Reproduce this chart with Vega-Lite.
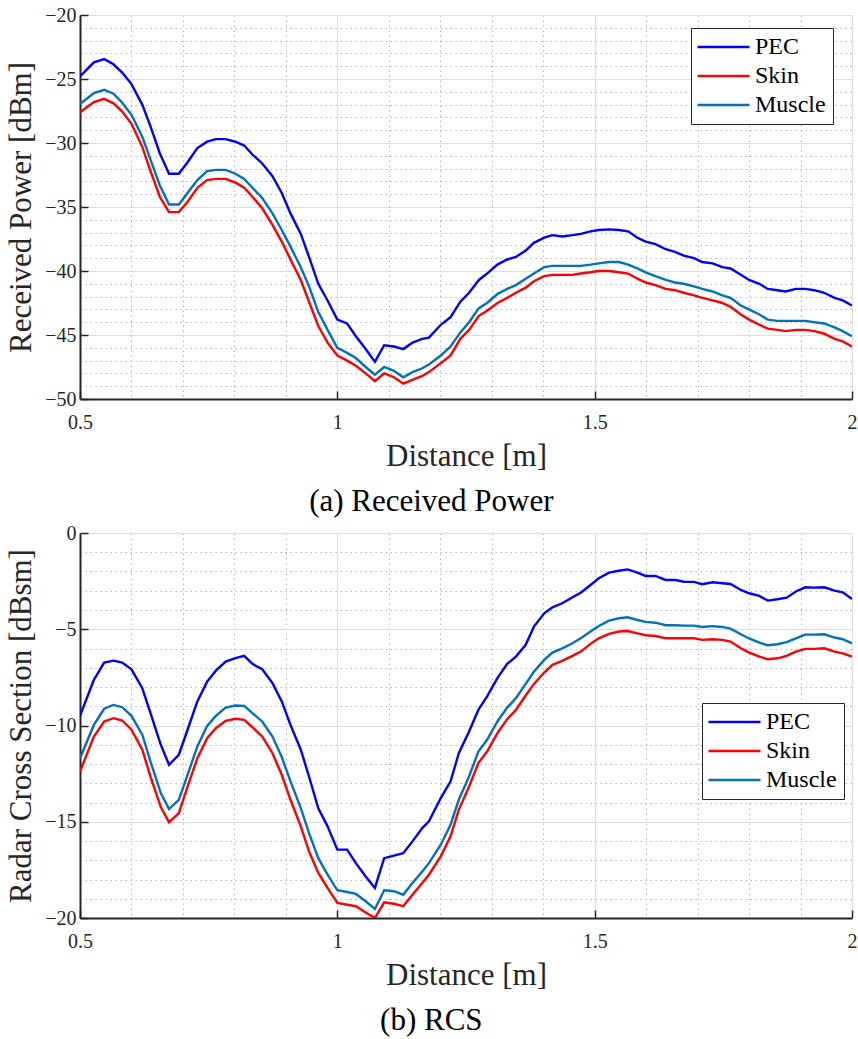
{
  "$schema": "https://vega.github.io/schema/vega-lite/v6.json",
  "background": "white",
  "padding": {"left": 5, "top": 5, "right": 0, "bottom": 5},
  "spacing": 6,
  "datasets": {
    "rp": [
      {"d":0.5,"PEC":-24.8,"Skin":-27.6,"Muscle":-26.95},
      {"d":0.527,"PEC":-23.7,"Skin":-26.8,"Muscle":-26.1},
      {"d":0.547,"PEC":-23.45,"Skin":-26.55,"Muscle":-25.85},
      {"d":0.565,"PEC":-23.85,"Skin":-26.9,"Muscle":-26.15},
      {"d":0.582,"PEC":-24.5,"Skin":-27.55,"Muscle":-26.85},
      {"d":0.6,"PEC":-25.4,"Skin":-28.5,"Muscle":-27.8},
      {"d":0.621,"PEC":-27.0,"Skin":-30.3,"Muscle":-29.5},
      {"d":0.637,"PEC":-28.7,"Skin":-32.2,"Muscle":-31.3},
      {"d":0.655,"PEC":-30.8,"Skin":-34.2,"Muscle":-33.3},
      {"d":0.673,"PEC":-32.4,"Skin":-35.4,"Muscle":-34.8},
      {"d":0.692,"PEC":-32.4,"Skin":-35.4,"Muscle":-34.8},
      {"d":0.709,"PEC":-31.5,"Skin":-34.6,"Muscle":-33.9},
      {"d":0.728,"PEC":-30.4,"Skin":-33.5,"Muscle":-32.9},
      {"d":0.747,"PEC":-29.9,"Skin":-32.9,"Muscle":-32.2},
      {"d":0.764,"PEC":-29.7,"Skin":-32.8,"Muscle":-32.1},
      {"d":0.783,"PEC":-29.7,"Skin":-32.8,"Muscle":-32.1},
      {"d":0.802,"PEC":-29.9,"Skin":-33.1,"Muscle":-32.4},
      {"d":0.819,"PEC":-30.2,"Skin":-33.5,"Muscle":-32.8},
      {"d":0.835,"PEC":-30.9,"Skin":-34.2,"Muscle":-33.5},
      {"d":0.854,"PEC":-31.6,"Skin":-35.1,"Muscle":-34.3},
      {"d":0.874,"PEC":-32.6,"Skin":-36.4,"Muscle":-35.5},
      {"d":0.892,"PEC":-33.9,"Skin":-37.7,"Muscle":-36.8},
      {"d":0.909,"PEC":-35.5,"Skin":-39.1,"Muscle":-38.1},
      {"d":0.929,"PEC":-37.1,"Skin":-40.7,"Muscle":-39.7},
      {"d":0.945,"PEC":-38.9,"Skin":-42.4,"Muscle":-41.2},
      {"d":0.963,"PEC":-41.0,"Skin":-44.3,"Muscle":-43.2},
      {"d":0.981,"PEC":-42.3,"Skin":-45.6,"Muscle":-44.6},
      {"d":1.0,"PEC":-43.8,"Skin":-46.6,"Muscle":-46.0},
      {"d":1.019,"PEC":-44.1,"Skin":-47.0,"Muscle":-46.4},
      {"d":1.036,"PEC":-45.1,"Skin":-47.4,"Muscle":-46.8},
      {"d":1.055,"PEC":-46.1,"Skin":-48.0,"Muscle":-47.5},
      {"d":1.073,"PEC":-47.1,"Skin":-48.6,"Muscle":-48.1},
      {"d":1.091,"PEC":-45.8,"Skin":-48.0,"Muscle":-47.5},
      {"d":1.11,"PEC":-45.9,"Skin":-48.3,"Muscle":-47.8},
      {"d":1.128,"PEC":-46.1,"Skin":-48.8,"Muscle":-48.3},
      {"d":1.146,"PEC":-45.6,"Skin":-48.5,"Muscle":-47.9},
      {"d":1.165,"PEC":-45.3,"Skin":-48.2,"Muscle":-47.6},
      {"d":1.178,"PEC":-45.2,"Skin":-47.9,"Muscle":-47.3},
      {"d":1.201,"PEC":-44.2,"Skin":-47.2,"Muscle":-46.6},
      {"d":1.22,"PEC":-43.6,"Skin":-46.6,"Muscle":-45.9},
      {"d":1.239,"PEC":-42.4,"Skin":-45.3,"Muscle":-44.8},
      {"d":1.256,"PEC":-41.7,"Skin":-44.6,"Muscle":-44.0},
      {"d":1.275,"PEC":-40.7,"Skin":-43.5,"Muscle":-42.9},
      {"d":1.291,"PEC":-40.2,"Skin":-43.1,"Muscle":-42.5},
      {"d":1.311,"PEC":-39.5,"Skin":-42.5,"Muscle":-41.8},
      {"d":1.33,"PEC":-39.1,"Skin":-42.1,"Muscle":-41.4},
      {"d":1.347,"PEC":-38.9,"Skin":-41.7,"Muscle":-41.1},
      {"d":1.366,"PEC":-38.4,"Skin":-41.3,"Muscle":-40.6},
      {"d":1.382,"PEC":-37.8,"Skin":-40.8,"Muscle":-40.2},
      {"d":1.402,"PEC":-37.4,"Skin":-40.4,"Muscle":-39.7},
      {"d":1.418,"PEC":-37.2,"Skin":-40.3,"Muscle":-39.6},
      {"d":1.437,"PEC":-37.3,"Skin":-40.3,"Muscle":-39.6},
      {"d":1.457,"PEC":-37.2,"Skin":-40.3,"Muscle":-39.6},
      {"d":1.473,"PEC":-37.1,"Skin":-40.2,"Muscle":-39.6},
      {"d":1.492,"PEC":-36.9,"Skin":-40.1,"Muscle":-39.5},
      {"d":1.508,"PEC":-36.8,"Skin":-40.0,"Muscle":-39.4},
      {"d":1.528,"PEC":-36.75,"Skin":-40.0,"Muscle":-39.3},
      {"d":1.547,"PEC":-36.8,"Skin":-40.1,"Muscle":-39.3},
      {"d":1.565,"PEC":-36.9,"Skin":-40.2,"Muscle":-39.5},
      {"d":1.583,"PEC":-37.4,"Skin":-40.6,"Muscle":-39.8},
      {"d":1.599,"PEC":-37.7,"Skin":-40.9,"Muscle":-40.1},
      {"d":1.618,"PEC":-37.9,"Skin":-41.1,"Muscle":-40.4},
      {"d":1.638,"PEC":-38.3,"Skin":-41.4,"Muscle":-40.7},
      {"d":1.656,"PEC":-38.5,"Skin":-41.5,"Muscle":-40.9},
      {"d":1.673,"PEC":-38.8,"Skin":-41.7,"Muscle":-41.0},
      {"d":1.693,"PEC":-39.0,"Skin":-41.9,"Muscle":-41.2},
      {"d":1.709,"PEC":-39.3,"Skin":-42.1,"Muscle":-41.4},
      {"d":1.729,"PEC":-39.4,"Skin":-42.3,"Muscle":-41.6},
      {"d":1.748,"PEC":-39.7,"Skin":-42.5,"Muscle":-41.9},
      {"d":1.764,"PEC":-39.8,"Skin":-42.8,"Muscle":-42.1},
      {"d":1.784,"PEC":-40.3,"Skin":-43.4,"Muscle":-42.7},
      {"d":1.8,"PEC":-40.7,"Skin":-43.8,"Muscle":-43.0},
      {"d":1.82,"PEC":-41.0,"Skin":-44.2,"Muscle":-43.4},
      {"d":1.836,"PEC":-41.4,"Skin":-44.5,"Muscle":-43.8},
      {"d":1.855,"PEC":-41.5,"Skin":-44.6,"Muscle":-43.9},
      {"d":1.871,"PEC":-41.6,"Skin":-44.7,"Muscle":-43.9},
      {"d":1.891,"PEC":-41.4,"Skin":-44.6,"Muscle":-43.9},
      {"d":1.909,"PEC":-41.4,"Skin":-44.6,"Muscle":-43.9},
      {"d":1.927,"PEC":-41.5,"Skin":-44.7,"Muscle":-44.0},
      {"d":1.946,"PEC":-41.7,"Skin":-44.9,"Muscle":-44.1},
      {"d":1.966,"PEC":-42.1,"Skin":-45.3,"Muscle":-44.4},
      {"d":1.982,"PEC":-42.3,"Skin":-45.5,"Muscle":-44.7},
      {"d":2.0,"PEC":-42.7,"Skin":-45.9,"Muscle":-45.1}
    ],
    "rcs": [
      {"d":0.5,"PEC":-9.5,"Skin":-12.39,"Muscle":-11.7},
      {"d":0.527,"PEC":-7.63,"Skin":-10.57,"Muscle":-9.97},
      {"d":0.547,"PEC":-6.73,"Skin":-9.79,"Muscle":-9.13},
      {"d":0.565,"PEC":-6.63,"Skin":-9.62,"Muscle":-8.93},
      {"d":0.582,"PEC":-6.73,"Skin":-9.74,"Muscle":-9.05},
      {"d":0.6,"PEC":-7.08,"Skin":-10.22,"Muscle":-9.5},
      {"d":0.621,"PEC":-8.06,"Skin":-11.26,"Muscle":-10.48},
      {"d":0.637,"PEC":-9.36,"Skin":-12.65,"Muscle":-11.87},
      {"d":0.657,"PEC":-11.0,"Skin":-14.24,"Muscle":-13.51},
      {"d":0.673,"PEC":-12.04,"Skin":-15.03,"Muscle":-14.34},
      {"d":0.692,"PEC":-11.52,"Skin":-14.55,"Muscle":-13.86},
      {"d":0.709,"PEC":-10.22,"Skin":-13.17,"Muscle":-12.56},
      {"d":0.728,"PEC":-8.75,"Skin":-11.7,"Muscle":-11.09},
      {"d":0.747,"PEC":-7.72,"Skin":-10.66,"Muscle":-10.02},
      {"d":0.764,"PEC":-7.15,"Skin":-10.14,"Muscle":-9.5},
      {"d":0.783,"PEC":-6.68,"Skin":-9.76,"Muscle":-9.07},
      {"d":0.802,"PEC":-6.5,"Skin":-9.65,"Muscle":-8.96},
      {"d":0.819,"PEC":-6.38,"Skin":-9.71,"Muscle":-8.98},
      {"d":0.835,"PEC":-6.8,"Skin":-10.09,"Muscle":-9.36},
      {"d":0.854,"PEC":-7.08,"Skin":-10.57,"Muscle":-9.79},
      {"d":0.874,"PEC":-7.8,"Skin":-11.44,"Muscle":-10.57},
      {"d":0.892,"PEC":-8.75,"Skin":-12.56,"Muscle":-11.64},
      {"d":0.909,"PEC":-9.97,"Skin":-13.86,"Muscle":-12.9},
      {"d":0.929,"PEC":-11.26,"Skin":-15.24,"Muscle":-14.29},
      {"d":0.945,"PEC":-12.65,"Skin":-16.54,"Muscle":-15.59},
      {"d":0.963,"PEC":-14.3,"Skin":-17.66,"Muscle":-16.89},
      {"d":0.981,"PEC":-15.24,"Skin":-18.44,"Muscle":-17.75},
      {"d":1.0,"PEC":-16.45,"Skin":-19.22,"Muscle":-18.56},
      {"d":1.019,"PEC":-16.45,"Skin":-19.31,"Muscle":-18.65},
      {"d":1.036,"PEC":-17.15,"Skin":-19.39,"Muscle":-18.75},
      {"d":1.055,"PEC":-17.84,"Skin":-19.71,"Muscle":-19.13},
      {"d":1.073,"PEC":-18.44,"Skin":-20.0,"Muscle":-19.53},
      {"d":1.091,"PEC":-16.89,"Skin":-19.19,"Muscle":-18.56},
      {"d":1.11,"PEC":-16.76,"Skin":-19.26,"Muscle":-18.61},
      {"d":1.128,"PEC":-16.63,"Skin":-19.39,"Muscle":-18.79},
      {"d":1.146,"PEC":-16.02,"Skin":-18.79,"Muscle":-18.18},
      {"d":1.165,"PEC":-15.33,"Skin":-18.18,"Muscle":-17.58},
      {"d":1.178,"PEC":-14.98,"Skin":-17.75,"Muscle":-17.15},
      {"d":1.201,"PEC":-13.77,"Skin":-16.8,"Muscle":-16.19},
      {"d":1.22,"PEC":-12.9,"Skin":-15.76,"Muscle":-15.16},
      {"d":1.236,"PEC":-11.44,"Skin":-14.38,"Muscle":-13.86},
      {"d":1.256,"PEC":-10.31,"Skin":-13.17,"Muscle":-12.65},
      {"d":1.274,"PEC":-9.19,"Skin":-11.95,"Muscle":-11.35},
      {"d":1.291,"PEC":-8.49,"Skin":-11.35,"Muscle":-10.74},
      {"d":1.311,"PEC":-7.54,"Skin":-10.4,"Muscle":-9.79},
      {"d":1.33,"PEC":-6.8,"Skin":-9.67,"Muscle":-9.07},
      {"d":1.347,"PEC":-6.42,"Skin":-9.19,"Muscle":-8.58},
      {"d":1.366,"PEC":-5.81,"Skin":-8.44,"Muscle":-7.84},
      {"d":1.382,"PEC":-4.86,"Skin":-7.84,"Muscle":-7.2},
      {"d":1.402,"PEC":-4.17,"Skin":-7.25,"Muscle":-6.59},
      {"d":1.418,"PEC":-3.86,"Skin":-6.85,"Muscle":-6.21},
      {"d":1.437,"PEC":-3.65,"Skin":-6.64,"Muscle":-5.99},
      {"d":1.457,"PEC":-3.34,"Skin":-6.38,"Muscle":-5.73},
      {"d":1.473,"PEC":-3.1,"Skin":-6.16,"Muscle":-5.47},
      {"d":1.492,"PEC":-2.7,"Skin":-5.76,"Muscle":-5.12},
      {"d":1.508,"PEC":-2.35,"Skin":-5.47,"Muscle":-4.83},
      {"d":1.528,"PEC":-2.06,"Skin":-5.24,"Muscle":-4.55},
      {"d":1.547,"PEC":-1.96,"Skin":-5.12,"Muscle":-4.43},
      {"d":1.564,"PEC":-1.89,"Skin":-5.09,"Muscle":-4.38},
      {"d":1.583,"PEC":-2.06,"Skin":-5.21,"Muscle":-4.52},
      {"d":1.599,"PEC":-2.23,"Skin":-5.31,"Muscle":-4.62},
      {"d":1.618,"PEC":-2.23,"Skin":-5.35,"Muscle":-4.66},
      {"d":1.638,"PEC":-2.44,"Skin":-5.47,"Muscle":-4.79},
      {"d":1.657,"PEC":-2.44,"Skin":-5.47,"Muscle":-4.79},
      {"d":1.673,"PEC":-2.53,"Skin":-5.47,"Muscle":-4.81},
      {"d":1.693,"PEC":-2.54,"Skin":-5.47,"Muscle":-4.81},
      {"d":1.709,"PEC":-2.66,"Skin":-5.55,"Muscle":-4.88},
      {"d":1.729,"PEC":-2.56,"Skin":-5.52,"Muscle":-4.84},
      {"d":1.748,"PEC":-2.61,"Skin":-5.55,"Muscle":-4.88},
      {"d":1.764,"PEC":-2.65,"Skin":-5.64,"Muscle":-4.97},
      {"d":1.784,"PEC":-2.96,"Skin":-5.99,"Muscle":-5.26},
      {"d":1.8,"PEC":-3.13,"Skin":-6.21,"Muscle":-5.48},
      {"d":1.82,"PEC":-3.27,"Skin":-6.42,"Muscle":-5.69},
      {"d":1.836,"PEC":-3.51,"Skin":-6.56,"Muscle":-5.83},
      {"d":1.855,"PEC":-3.44,"Skin":-6.51,"Muscle":-5.78},
      {"d":1.873,"PEC":-3.36,"Skin":-6.38,"Muscle":-5.67},
      {"d":1.891,"PEC":-3.04,"Skin":-6.16,"Muscle":-5.47},
      {"d":1.909,"PEC":-2.82,"Skin":-6.02,"Muscle":-5.28},
      {"d":1.927,"PEC":-2.84,"Skin":-6.02,"Muscle":-5.28},
      {"d":1.946,"PEC":-2.82,"Skin":-5.99,"Muscle":-5.26},
      {"d":1.966,"PEC":-2.99,"Skin":-6.16,"Muscle":-5.43},
      {"d":1.982,"PEC":-3.08,"Skin":-6.25,"Muscle":-5.52},
      {"d":2.0,"PEC":-3.43,"Skin":-6.42,"Muscle":-5.73}
    ]
  },
  "vconcat": [
    {
      "width": 772,
      "height": 384,
      "data": {"name": "rp"},
      "transform": [{"fold": ["PEC", "Skin", "Muscle"], "as": ["Material", "value"]}],
      "title": {"text": "(a) Received Power", "orient": "bottom", "anchor": "middle", "frame": "bounds", "offset": 16},
      "mark": {"type": "line", "strokeWidth": 2.4, "clip": true},
      "encoding": {
        "x": {
          "field": "d", "type": "quantitative",
          "scale": {"domain": [0.5, 2], "nice": false, "zero": false},
          "axis": {
            "title": "Distance [m]",
            "values": [0.5,0.6,0.7,0.8,0.9,1.0,1.1,1.2,1.3,1.4,1.5,1.6,1.7,1.8,1.9,2.0],
            "labelExpr": "abs(datum.value*2 - round(datum.value*2)) < 0.01 ? format(datum.value, '~g') : ''",
            "gridDash": {"condition": {"test": "abs(datum.value*2 - round(datum.value*2)) < 0.01", "value": []}, "value": [1.5, 3.5]},
            "gridColor": {"condition": {"test": "abs(datum.value*2 - round(datum.value*2)) < 0.01", "value": "#dedede"}, "value": "#b5b5b5"},
            "tickOpacity": {"condition": {"test": "abs(datum.value*2 - round(datum.value*2)) < 0.01", "value": 1}, "value": 0}
          }
        },
        "y": {
          "field": "value", "type": "quantitative",
          "scale": {"domain": [-50, -20], "nice": false, "zero": false},
          "axis": {
            "title": "Received Power [dBm]",
            "values": [-50,-49,-48,-47,-46,-45,-44,-43,-42,-41,-40,-39,-38,-37,-36,-35,-34,-33,-32,-31,-30,-29,-28,-27,-26,-25,-24,-23,-22,-21,-20],
            "labelExpr": "datum.value % 5 == 0 ? format(datum.value, 'd') : ''",
            "gridDash": {"condition": {"test": "datum.value % 5 == 0", "value": []}, "value": [1.5, 3.5]},
            "gridColor": {"condition": {"test": "datum.value % 5 == 0", "value": "#dedede"}, "value": "#b5b5b5"},
            "tickOpacity": {"condition": {"test": "datum.value % 5 == 0", "value": 1}, "value": 0}
          }
        },
        "color": {
          "field": "Material", "type": "nominal",
          "scale": {"domain": ["PEC", "Skin", "Muscle"], "range": ["#0000ff", "#ff0000", "#0072bd"]},
          "legend": {"orient": "none", "legendX": 611, "legendY": 13}
        }
      }
    },
    {
      "width": 772,
      "height": 385,
      "data": {"name": "rcs"},
      "transform": [{"fold": ["PEC", "Skin", "Muscle"], "as": ["Material", "value"]}],
      "title": {"text": "(b) RCS", "orient": "bottom", "anchor": "middle", "frame": "bounds", "offset": 16},
      "mark": {"type": "line", "strokeWidth": 2.4, "clip": true},
      "encoding": {
        "x": {
          "field": "d", "type": "quantitative",
          "scale": {"domain": [0.5, 2], "nice": false, "zero": false},
          "axis": {
            "title": "Distance [m]",
            "values": [0.5,0.6,0.7,0.8,0.9,1.0,1.1,1.2,1.3,1.4,1.5,1.6,1.7,1.8,1.9,2.0],
            "labelExpr": "abs(datum.value*2 - round(datum.value*2)) < 0.01 ? format(datum.value, '~g') : ''",
            "gridDash": {"condition": {"test": "abs(datum.value*2 - round(datum.value*2)) < 0.01", "value": []}, "value": [1.5, 3.5]},
            "gridColor": {"condition": {"test": "abs(datum.value*2 - round(datum.value*2)) < 0.01", "value": "#dedede"}, "value": "#b5b5b5"},
            "tickOpacity": {"condition": {"test": "abs(datum.value*2 - round(datum.value*2)) < 0.01", "value": 1}, "value": 0}
          }
        },
        "y": {
          "field": "value", "type": "quantitative",
          "scale": {"domain": [-20, 0], "nice": false, "zero": false},
          "axis": {
            "title": "Radar Cross Section [dBsm]",
            "values": [-20,-19,-18,-17,-16,-15,-14,-13,-12,-11,-10,-9,-8,-7,-6,-5,-4,-3,-2,-1,0],
            "labelExpr": "datum.value % 5 == 0 ? format(datum.value, 'd') : ''",
            "gridDash": {"condition": {"test": "datum.value % 5 == 0", "value": []}, "value": [1.5, 3.5]},
            "gridColor": {"condition": {"test": "datum.value % 5 == 0", "value": "#dedede"}, "value": "#b5b5b5"},
            "tickOpacity": {"condition": {"test": "datum.value % 5 == 0", "value": 1}, "value": 0}
          }
        },
        "color": {
          "field": "Material", "type": "nominal",
          "scale": {"domain": ["PEC", "Skin", "Muscle"], "range": ["#0000ff", "#ff0000", "#0072bd"]},
          "legend": {"orient": "none", "legendX": 622, "legendY": 170}
        }
      }
    }
  ],
  "resolve": {"scale": {"color": "independent"}, "legend": {"color": "independent"}},
  "config": {
    "font": "Liberation Serif",
    "view": {"stroke": null},
    "axis": {
      "labelFont": "Liberation Serif",
      "labelFontSize": 20,
      "labelColor": "#262626",
      "titleFont": "Liberation Serif",
      "titleFontSize": 31,
      "titleFontWeight": "normal",
      "titleColor": "#262626",
      "domainColor": "#262626",
      "domainWidth": 2,
      "tickColor": "#262626",
      "tickWidth": 1.5,
      "tickSize": -8,
      "gridWidth": 1,
      "labelBound": false,
      "labelFlush": false,
      "labelOverlap": false
    },
    "axisX": {"titlePadding": 9, "labelPadding": 21},
    "axisY": {"titlePadding": 7, "labelPadding": 12},
    "legend": {
      "title": null,
      "symbolType": "M-1,0H7",
      "symbolSize": 169,
      "symbolStrokeWidth": 2.5,
      "symbolOffset": -6,
      "labelFont": "Liberation Serif",
      "labelFontSize": 24,
      "labelColor": "#000000",
      "labelOffset": 39,
      "strokeColor": "#262626",
      "fillColor": "white",
      "padding": 7,
      "rowPadding": 5
    },
    "title": {
      "font": "Liberation Serif",
      "fontSize": 31,
      "fontWeight": "normal",
      "color": "#000000"
    }
  }
}
